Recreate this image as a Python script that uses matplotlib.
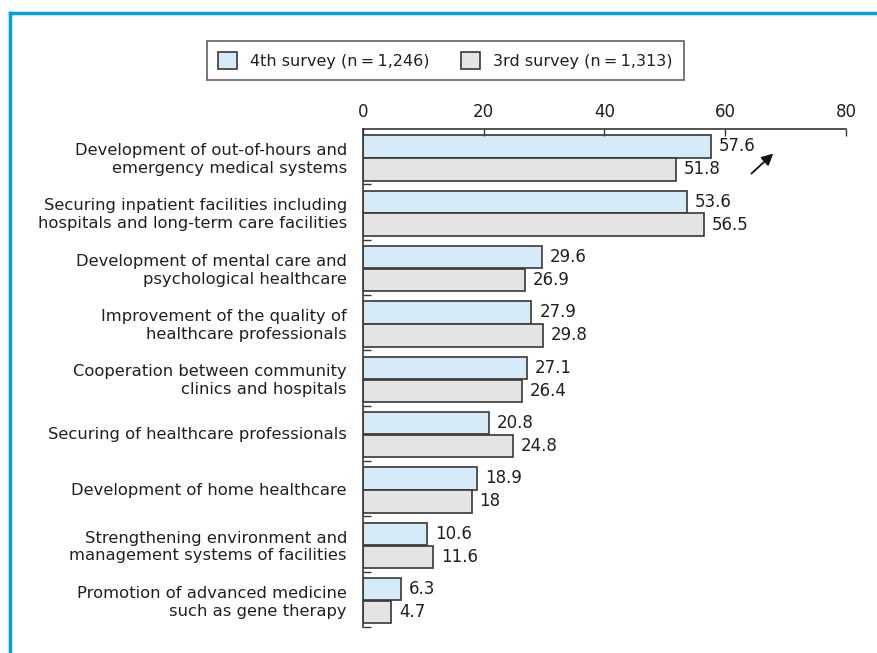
import matplotlib.pyplot as plt
import numpy as np
from matplotlib.patches import Patch
from matplotlib.lines import Line2D

plt.rcParams['font.family'] = ['DejaVu Sans']

categories = [
    "Development of out-of-hours and\nemergency medical systems",
    "Securing inpatient facilities including\nhospitals and long-term care facilities",
    "Development of mental care and\npsychological healthcare",
    "Improvement of the quality of\nhealthcare professionals",
    "Cooperation between community\nclinics and hospitals",
    "Securing of healthcare professionals",
    "Development of home healthcare",
    "Strengthening environment and\nmanagement systems of facilities",
    "Promotion of advanced medicine\nsuch as gene therapy",
]
survey4 = [57.6, 53.6, 29.6, 27.9, 27.1, 20.8, 18.9, 10.6, 6.3]
survey3 = [51.8, 56.5, 26.9, 29.8, 26.4, 24.8, 18, 11.6, 4.7]
survey4_labels = ["57.6", "53.6", "29.6", "27.9", "27.1", "20.8", "18.9", "10.6", "6.3"]
survey3_labels = ["51.8", "56.5", "26.9", "29.8", "26.4", "24.8", "18", "11.6", "4.7"]
legend_labels = ["4th survey (n\u2009=\u20091,246)", "3rd survey (n\u2009=\u20091,313)"]
xticks = [0, 20, 40, 60, 80]

blue = "#d5ebf8"
grey = "#e4e4e4"
edge = "#3a3636"
txt = "#231f20"
fs = 11.5

fig = plt.figure(figsize=(8.78, 6.53), dpi=100)
ax = fig.add_axes([0.4134, 0.0398, 0.5501, 0.7627])

n = len(categories)
pos = np.arange(n)
h = 0.405
ax.barh(pos + 0.315, survey4, height=h, color=blue, edgecolor=edge, linewidth=1.2)
ax.barh(pos + 0.73, survey3, height=h, color=grey, edgecolor=edge, linewidth=1.2)

for i in range(n):
    ax.text(survey4[i] + 1.3, i + 0.315, survey4_labels[i], va='center', ha='left',
            fontsize=12, color=txt)
    ax.text(survey3[i] + 1.3, i + 0.73, survey3_labels[i], va='center', ha='left',
            fontsize=12, color=txt)

ax.set_xlim(0, 80)
ax.set_ylim(n, 0)
ax.xaxis.tick_top()
ax.set_xticks(xticks)
ax.tick_params(axis='x', direction='in', length=5, width=1, color=edge, labelsize=12,
               labelcolor=txt, pad=6)
ax.set_yticks(pos + 0.5)
ax.set_yticklabels(categories, fontsize=11.8, color=txt, linespacing=1.24)
ax.tick_params(axis='y', which='major', length=0, pad=11.5)
ax.set_yticks(pos + 1, minor=True)
ax.tick_params(axis='y', which='minor', direction='in', length=6, width=1, color=edge)

for s in ['right', 'bottom']:
    ax.spines[s].set_visible(False)
ax.spines['top'].set_color(edge)
ax.spines['left'].set_color(edge)
ax.spines['top'].set_linewidth(1.2)
ax.spines['left'].set_linewidth(1.2)

ax.annotate("", xy=(68.3, 0.41), xytext=(64.0, 0.84),
            arrowprops=dict(arrowstyle='-|>', color='#111111', lw=1.3, mutation_scale=17))

handles = [Patch(facecolor=blue, edgecolor=edge, linewidth=1.2),
           Patch(facecolor=grey, edgecolor=edge, linewidth=1.2)]
leg = fig.legend(handles, legend_labels, loc='center', bbox_to_anchor=(0.507, 0.907),
                 ncol=2, fontsize=fs, frameon=True, fancybox=False, edgecolor=edge,
                 handlelength=1.2, handleheight=1.2, columnspacing=2.0, borderpad=0.7)
leg.get_frame().set_linewidth(1.2)
for t in leg.get_texts():
    t.set_color(txt)

# blue frame on top and left
fig.add_artist(Line2D([0.0115, 1.0], [0.9808, 0.9808], color="#00a0e9", lw=2.5))
fig.add_artist(Line2D([0.0115, 0.0115], [0.0, 0.9808], color="#00a0e9", lw=2.5))

fig.savefig("out.png", dpi=100)
